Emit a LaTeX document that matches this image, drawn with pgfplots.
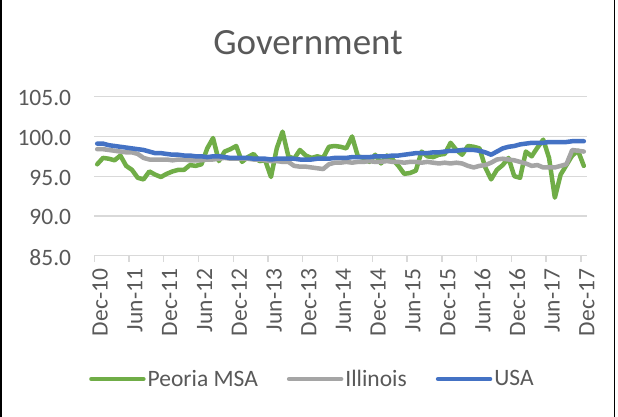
\documentclass[border=0pt]{standalone}
\usepackage{pgfplots}
\usepackage{pgfplotstable}
\pgfplotsset{compat=1.18}
\usepackage{fontspec}
\setmainfont{Carlito}
\definecolor{pgreen}{HTML}{70AD47}
\definecolor{pgray}{HTML}{A5A5A5}
\definecolor{pblue}{HTML}{4472C4}
\definecolor{gridc}{HTML}{D9D9D9}
\definecolor{txt}{HTML}{595959}

\pgfplotstableread{
i peoria illinois usa
0 96.5 98.4 99.1
1 97.3 98.4 99.1
2 97.2 98.3 98.9
3 97.0 98.2 98.8
4 97.6 98.1 98.7
5 96.3 98.0 98.6
6 95.8 98.0 98.5
7 94.8 97.8 98.4
8 94.6 97.3 98.3
9 95.6 97.1 98.1
10 95.2 97.1 97.9
11 94.9 97.1 97.9
12 95.3 97.1 97.8
13 95.6 97.0 97.7
14 95.8 97.1 97.7
15 95.8 97.1 97.6
16 96.4 97.0 97.6
17 96.3 97.0 97.5
18 96.5 97.0 97.5
19 98.5 97.1 97.4
20 99.8 97.1 97.5
21 96.9 97.2 97.5
22 98.1 97.3 97.4
23 98.4 97.2 97.3
24 98.8 97.2 97.3
25 96.8 97.2 97.3
26 97.4 97.2 97.3
27 97.8 97.1 97.2
28 96.9 97.1 97.2
29 97.0 97.0 97.2
30 94.9 96.9 97.1
31 98.5 96.9 97.2
32 100.6 96.8 97.2
33 97.5 96.8 97.2
34 97.2 96.3 97.2
35 98.3 96.2 97.1
36 97.6 96.2 97.1
37 97.3 96.1 97.1
38 97.5 96.0 97.2
39 97.3 95.9 97.2
40 98.7 96.5 97.2
41 98.8 96.7 97.3
42 98.7 96.7 97.3
43 98.5 96.8 97.3
44 100.0 96.7 97.4
45 97.5 96.8 97.4
46 97.3 96.8 97.4
47 96.8 96.9 97.4
48 97.7 96.8 97.5
49 96.6 96.8 97.5
50 97.6 96.9 97.5
51 97.1 96.8 97.6
52 96.3 96.8 97.6
53 95.3 96.7 97.7
54 95.4 96.8 97.8
55 95.7 96.8 97.9
56 98.1 96.7 97.9
57 97.5 96.8 97.9
58 97.4 96.7 98.0
59 97.7 96.6 98.0
60 97.8 96.7 98.1
61 99.2 96.6 98.2
62 98.3 96.7 98.2
63 97.7 96.6 98.3
64 98.8 96.3 98.3
65 98.7 96.1 98.3
66 98.5 96.3 98.2
67 96.1 96.4 98.0
68 94.6 96.7 97.7
69 95.8 97.1 98.1
70 96.4 97.2 98.5
71 97.3 97.1 98.7
72 95.0 97.0 98.8
73 94.8 96.8 99.0
74 98.1 96.6 99.1
75 97.5 96.3 99.2
76 98.6 96.4 99.2
77 99.6 96.1 99.2
78 97.3 96.1 99.3
79 92.3 96.1 99.3
80 95.2 96.3 99.3
81 96.4 96.5 99.3
82 97.6 98.3 99.4
83 98.2 98.2 99.4
84 96.3 98.1 99.4
}\datatable

\begin{document}
\begin{tikzpicture}[x=1pt,y=1pt]
\useasboundingbox (0,0) rectangle (618,416);
\fill[white] (0,0) rectangle (618,416);
\draw[black, line width=1.5pt] (0.75,-2) -- (0.75,418);
\draw[black, line width=1.5pt] (614.25,-2) -- (614.25,418);
\node[anchor=base, text=txt, font=\fontsize{37}{44}\selectfont, inner sep=0pt] at (308,361) {Government};
\begin{axis}[
  at={(94.3pt,160.3pt)}, anchor=south west,
  width=492.4pt, height=159pt, scale only axis,
  xmin=-0.5, xmax=84.5, ymin=85, ymax=105,
  axis x line*=bottom, axis y line*=left,
  x axis line style={draw=gridc, line width=1.3pt, -},
  y axis line style={draw=none},
  ytick={85,90,95,100,105},
  ymajorgrids, grid style={gridc, line width=1.3pt},
  yticklabel={\pgfmathprintnumber[fixed,fixed zerofill,precision=1]{\tick}},
  /pgf/number format/assume math mode=true,
  major tick length=0pt,
  xtick={0,6,...,84},
  xticklabels={Dec-10,Jun-11,Dec-11,Jun-12,Dec-12,Jun-13,Dec-13,Jun-14,Dec-14,Jun-15,Dec-15,Jun-16,Dec-16,Jun-17,Dec-17},
  minor xtick={-0.5,5.5,11.5,17.5,23.5,29.5,35.5,41.5,47.5,53.5,59.5,65.5,71.5,77.5,83.5},
  minor tick length=6pt, tick align=outside,
  xtick pos=bottom, ytick pos=left,
  every tick/.style={gridc, line width=1.3pt},
  tick label style={font=\fontsize{23.5}{28}\selectfont, text=txt},
  yticklabel style={anchor=east, inner sep=0pt, xshift=-23pt, yshift=-1.5pt},
  xticklabel style={xshift=3pt, yshift=-13pt, rotate=90, anchor=east, inner sep=0pt},
  legend columns=3,
  legend style={at={(-0.0108,-0.7755)}, anchor=west, draw=none, fill=none,
    inner sep=0pt, font=\fontsize{23.5}{28}\selectfont, text=txt,
    nodes={inner xsep=2pt, inner ysep=0pt},
    /tikz/every odd column/.append style={column sep=0pt},
    /tikz/every even column/.append style={column sep=27pt}},
  legend cell align=left,
  legend image code/.code={\draw[#1, line cap=round] (2pt,0pt) -- (54pt,0pt);},
  every axis plot/.append style={line width=4.5pt, line join=round, line cap=round},
]
\addplot[pgreen] table[x=i, y=peoria] {\datatable};
\addlegendentry{Peoria MSA}
\addplot[pgray] table[x=i, y=illinois] {\datatable};
\addlegendentry{Illinois}
\addplot[pblue] table[x=i, y=usa] {\datatable};
\addlegendentry{USA}
\end{axis}
\end{tikzpicture}
\end{document}
